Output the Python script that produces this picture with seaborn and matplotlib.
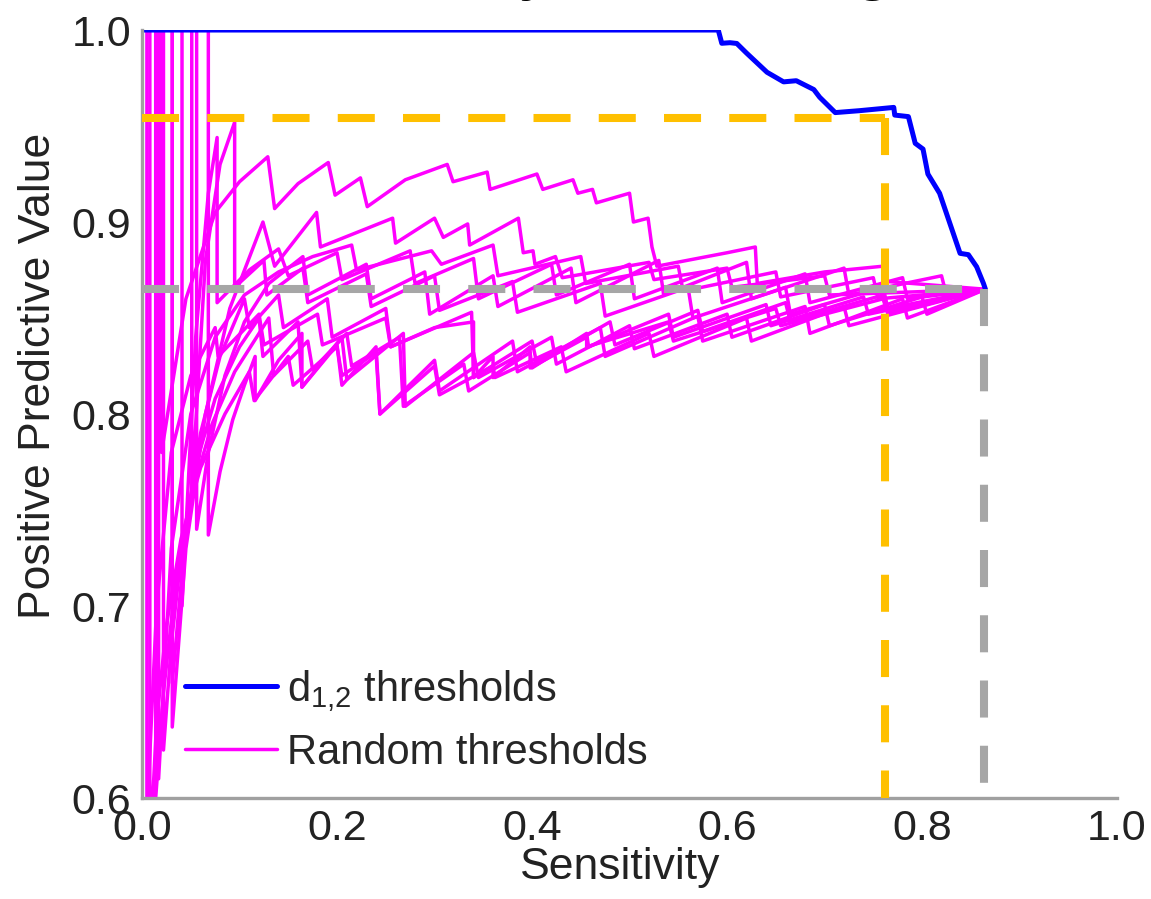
import numpy as np
import pandas as pd
import matplotlib
matplotlib.use("Agg")
import matplotlib.pyplot as plt
from matplotlib.lines import Line2D
import seaborn as sns

# blue curve: d_{1,2} thresholds
d12_sens = [0.0, 0.591, 0.5946, 0.603, 0.610, 0.620, 0.641, 0.658, 0.671, 0.689, 0.695, 0.711,
            0.736, 0.771, 0.772, 0.786, 0.793, 0.801, 0.806, 0.818, 0.839, 0.8475, 0.856, 0.863, 0.865]
d12_ppv = [1.0, 1.0, 0.9931, 0.9934, 0.993, 0.988, 0.978, 0.973, 0.9736, 0.969, 0.965, 0.957,
           0.958, 0.9597, 0.9557, 0.9549, 0.941, 0.938, 0.925, 0.915, 0.8837, 0.883, 0.8767, 0.868, 0.865]

# magenta curves: random thresholds (sensitivity, ppv)
rand_sens = [
    [0.004, 0.020, 0.020, 0.045, 0.075, 0.100, 0.129, 0.136, 0.160, 0.191, 0.198, 0.224, 0.231, 0.270, 0.313, 0.319,
     0.354, 0.357, 0.405, 0.411, 0.442, 0.447, 0.462, 0.466, 0.500, 0.504, 0.519, 0.523, 0.528, 0.600, 0.629, 0.631,
     0.700, 0.760, 0.765, 0.865],
    [0.026, 0.031, 0.031, 0.045, 0.065, 0.090, 0.124, 0.136, 0.179, 0.183, 0.257, 0.260, 0.300, 0.309, 0.334, 0.336,
     0.386, 0.391, 0.401, 0.403, 0.424, 0.431, 0.520, 0.525, 0.600, 0.605, 0.700, 0.705, 0.865],
    [0.037, 0.041, 0.041, 0.055, 0.068, 0.077, 0.077, 0.110, 0.140, 0.150, 0.200, 0.205, 0.275, 0.280, 0.340, 0.345,
     0.420, 0.425, 0.500, 0.505, 0.590, 0.595, 0.680, 0.685, 0.780, 0.785, 0.865],
    [0.046, 0.051, 0.051, 0.065, 0.080, 0.095, 0.095, 0.125, 0.128, 0.165, 0.170, 0.230, 0.235, 0.300, 0.305, 0.380,
     0.385, 0.470, 0.475, 0.560, 0.565, 0.660, 0.665, 0.760, 0.765, 0.865],
    [0.062, 0.068, 0.068, 0.080, 0.093, 0.105, 0.116, 0.116, 0.140, 0.164, 0.164, 0.200, 0.205, 0.240, 0.244, 0.300,
     0.305, 0.380, 0.385, 0.470, 0.475, 0.570, 0.575, 0.680, 0.685, 0.780, 0.785, 0.865],
    [0.015, 0.022, 0.022, 0.030, 0.042, 0.056, 0.075, 0.100, 0.120, 0.124, 0.160, 0.164, 0.205, 0.210, 0.268, 0.270,
     0.340, 0.345, 0.420, 0.425, 0.500, 0.505, 0.600, 0.605, 0.700, 0.705, 0.800, 0.805, 0.865],
    [0.002, 0.008, 0.008, 0.015, 0.025, 0.040, 0.060, 0.085, 0.110, 0.115, 0.150, 0.155, 0.200, 0.205, 0.240, 0.244,
     0.300, 0.305, 0.360, 0.362, 0.430, 0.435, 0.520, 0.525, 0.620, 0.625, 0.720, 0.725, 0.865],
    [0.006, 0.014, 0.014, 0.022, 0.035, 0.052, 0.072, 0.095, 0.130, 0.135, 0.170, 0.175, 0.210, 0.215, 0.264, 0.268,
     0.330, 0.335, 0.398, 0.400, 0.456, 0.458, 0.540, 0.545, 0.640, 0.645, 0.740, 0.745, 0.865],
    [0.026, 0.031, 0.031, 0.045, 0.060, 0.080, 0.105, 0.110, 0.140, 0.145, 0.190, 0.195, 0.250, 0.255, 0.338, 0.340,
     0.400, 0.405, 0.480, 0.485, 0.570, 0.575, 0.660, 0.665, 0.760, 0.765, 0.865],
    [0.050, 0.056, 0.056, 0.068, 0.085, 0.105, 0.130, 0.165, 0.170, 0.230, 0.235, 0.290, 0.295, 0.360, 0.365, 0.440,
     0.445, 0.530, 0.535, 0.620, 0.625, 0.720, 0.725, 0.820, 0.825, 0.865],
    [0.010, 0.017, 0.017, 0.030, 0.050, 0.075, 0.105, 0.140, 0.175, 0.215, 0.220, 0.297, 0.307, 0.360, 0.365, 0.450,
     0.455, 0.550, 0.555, 0.650, 0.655, 0.750, 0.755, 0.865],
    [0.003, 0.005, 0.005, 0.015, 0.030, 0.050, 0.075, 0.078, 0.120, 0.125, 0.180, 0.185, 0.250, 0.255, 0.300, 0.340,
     0.340, 0.360, 0.360, 0.398, 0.398, 0.456, 0.456, 0.540, 0.545, 0.650, 0.655, 0.760, 0.765, 0.865],
]
rand_ppv = [
    [1.0, 1.0, 0.78, 0.86, 0.905, 0.921, 0.934, 0.907, 0.920, 0.931, 0.914, 0.923, 0.908, 0.922, 0.930, 0.921,
     0.926, 0.917, 0.925, 0.917, 0.922, 0.915, 0.917, 0.910, 0.915, 0.900, 0.902, 0.887, 0.877, 0.884, 0.887, 0.868,
     0.874, 0.877, 0.869, 0.865],
    [1.0, 1.0, 0.637, 0.73, 0.80, 0.855, 0.900, 0.877, 0.905, 0.887, 0.902, 0.889, 0.902, 0.892, 0.899, 0.888,
     0.902, 0.884, 0.885, 0.878, 0.882, 0.871, 0.879, 0.870, 0.876, 0.866, 0.872, 0.862, 0.865],
    [1.0, 1.0, 0.70, 0.84, 0.915, 0.944, 0.858, 0.875, 0.886, 0.872, 0.884, 0.870, 0.885, 0.868, 0.881, 0.860,
     0.878, 0.862, 0.878, 0.860, 0.876, 0.858, 0.873, 0.858, 0.871, 0.860, 0.865],
    [1.0, 1.0, 0.76, 0.88, 0.930, 0.952, 0.866, 0.880, 0.862, 0.876, 0.858, 0.873, 0.856, 0.872, 0.854, 0.869,
     0.853, 0.868, 0.851, 0.866, 0.850, 0.866, 0.852, 0.866, 0.855, 0.865],
    [1.0, 1.0, 0.737, 0.770, 0.797, 0.815, 0.830, 0.807, 0.828, 0.842, 0.814, 0.836, 0.815, 0.835, 0.800, 0.828,
     0.812, 0.838, 0.822, 0.845, 0.830, 0.851, 0.838, 0.856, 0.842, 0.860, 0.850, 0.865],
    [1.0, 1.0, 0.625, 0.68, 0.735, 0.775, 0.808, 0.835, 0.850, 0.830, 0.848, 0.814, 0.840, 0.818, 0.842, 0.804,
     0.832, 0.819, 0.840, 0.826, 0.846, 0.834, 0.852, 0.840, 0.857, 0.846, 0.861, 0.852, 0.865],
    [1.0, 1.0, 0.57, 0.64, 0.69, 0.735, 0.772, 0.800, 0.822, 0.807, 0.830, 0.815, 0.835, 0.820, 0.832, 0.800,
     0.825, 0.810, 0.825, 0.819, 0.835, 0.822, 0.842, 0.830, 0.850, 0.838, 0.856, 0.846, 0.865],
    [1.0, 1.0, 0.60, 0.655, 0.715, 0.760, 0.795, 0.822, 0.850, 0.820, 0.838, 0.823, 0.842, 0.825, 0.840, 0.804,
     0.826, 0.812, 0.832, 0.824, 0.842, 0.835, 0.852, 0.840, 0.857, 0.846, 0.861, 0.852, 0.865],
    [1.0, 1.0, 0.66, 0.74, 0.79, 0.830, 0.860, 0.845, 0.862, 0.845, 0.860, 0.840, 0.855, 0.835, 0.853, 0.819,
     0.838, 0.826, 0.848, 0.836, 0.854, 0.843, 0.858, 0.848, 0.862, 0.853, 0.865],
    [1.0, 1.0, 0.74, 0.78, 0.820, 0.848, 0.868, 0.882, 0.862, 0.878, 0.860, 0.874, 0.852, 0.872, 0.856, 0.876,
     0.858, 0.880, 0.862, 0.879, 0.860, 0.876, 0.862, 0.872, 0.862, 0.865],
    [1.0, 1.0, 0.61, 0.73, 0.80, 0.840, 0.862, 0.874, 0.882, 0.888, 0.875, 0.885, 0.878, 0.888, 0.872, 0.882,
     0.868, 0.877, 0.864, 0.874, 0.861, 0.871, 0.860, 0.865],
    [1.0, 1.0, 0.59, 0.70, 0.78, 0.82, 0.845, 0.830, 0.852, 0.836, 0.852, 0.836, 0.850, 0.835, 0.845, 0.848,
     0.819, 0.830, 0.819, 0.835, 0.824, 0.840, 0.835, 0.848, 0.838, 0.855, 0.846, 0.860, 0.852, 0.865],
]

# operating points marked by the dashed guides
d12_point = (0.762, 0.954)
rand_point = (0.864, 0.865)

sns.set_style("white")
plt.rcParams['font.family'] = ['Liberation Sans', 'DejaVu Sans']
plt.rcParams['mathtext.fontset'] = 'custom'
plt.rcParams['mathtext.rm'] = 'Liberation Sans'

fig = plt.figure(figsize=(11.51, 8.99), dpi=100)
ax = fig.add_axes([0.1234, 0.1123, 0.8471, 0.8543])

rows = []
for k, (xs, ys) in enumerate(zip(rand_sens, rand_ppv)):
    for x, y in zip(xs, ys):
        rows.append({'curve': k, 'sens': x, 'ppv': y})
rand_df = pd.DataFrame(rows)
d12_df = pd.DataFrame({'sens': d12_sens, 'ppv': d12_ppv})

sns.lineplot(data=rand_df, x='sens', y='ppv', units='curve', estimator=None, sort=False,
             color='#ff00ff', linewidth=2.5, ax=ax)
sns.lineplot(data=d12_df, x='sens', y='ppv', estimator=None, sort=False,
             color='#0000ff', linewidth=3.6, ax=ax)

dash = (4.6, 3.5)
lw_dash = 5.8
ax.plot([0.0, d12_point[0]], [d12_point[1], d12_point[1]], color='#ffc000', lw=lw_dash, dashes=dash, zorder=5)
ax.plot([d12_point[0], d12_point[0]], [d12_point[1], 0.6], color='#ffc000', lw=lw_dash, dashes=dash, zorder=5)
ax.plot([0.0, rand_point[0]], [rand_point[1], rand_point[1]], color='#a6a6a6', lw=lw_dash, dashes=dash, zorder=5)
ax.plot([rand_point[0], rand_point[0]], [rand_point[1], 0.6], color='#a6a6a6', lw=lw_dash, dashes=dash, zorder=5)

ax.set_xlim(0, 1)
ax.set_ylim(0.6, 1.0)
ax.set_xticks(np.arange(0, 1.01, 0.2))
ax.set_xticklabels(['0.0', '0.2', '0.4', '0.6', '0.8', '1.0'])
ax.set_yticks(np.arange(0.6, 1.001, 0.1))
ax.set_yticklabels(['0.6', '0.7', '0.8', '0.9', '1.0'])
ax.tick_params(direction='in', length=8, width=1.5, color='#888888', labelsize=31,
               labelcolor='#222222', pad=8)
ax.set_xlabel('Sensitivity', fontsize=32, color='#222222')
ax.set_ylabel('Positive Predictive Value', fontsize=32, color='#222222')
ax.xaxis.label.set_va('center')
ax.yaxis.label.set_va('center')
ax.xaxis.set_label_coords(0.49, -0.09)
ax.yaxis.set_label_coords(-0.106, 0.55)
sns.despine(ax=ax)
for side in ['left', 'bottom']:
    ax.spines[side].set_color('#a0a0a0')
    ax.spines[side].set_linewidth(2.4)

handles = [Line2D([], [], color='#0000ff', lw=3.6), Line2D([], [], color='#ff00ff', lw=2.5)]
ax.legend(handles, [r'd$_{\mathregular{1{,}2}}$ thresholds', 'Random thresholds'],
          loc='lower left', bbox_to_anchor=(0.044, 0.033), frameon=False, fontsize=30,
          handlelength=2.2, handletextpad=0.25, labelspacing=0.45, borderpad=0.0,
          borderaxespad=0.0)

# cropped title, only descenders show at the top edge
fig.text(0.224, 1.0155, 'Accuracy of ranking', fontsize=52, ha='left', va='baseline', color='black')

fig.savefig('out.png', dpi=100)
